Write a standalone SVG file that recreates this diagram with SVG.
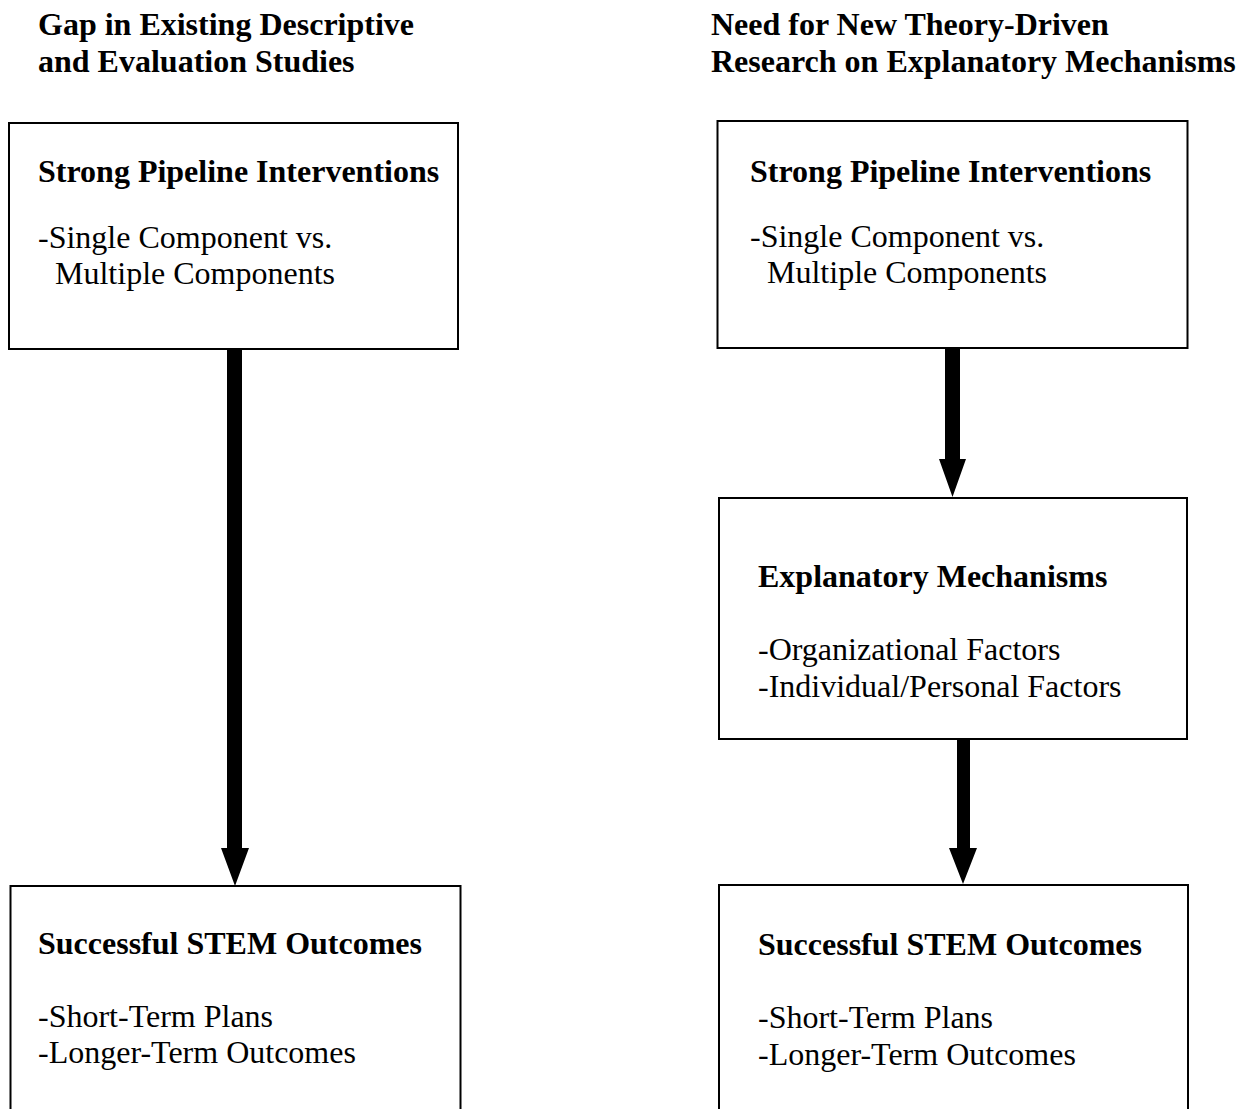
<svg xmlns="http://www.w3.org/2000/svg" width="1239" height="1109" viewBox="0 0 1239 1109">
<style>
.box{fill:#fff;stroke:#000;stroke-width:2}
text{font-family:"Liberation Serif","Times New Roman",serif;font-size:32px;fill:#000}
.b{font-weight:bold}
.arrow{fill:#000;stroke:none}
</style>
<rect width="1239" height="1109" fill="#fff"/>
<g id="header-left">
<text class="b" x="38" y="35">Gap in Existing Descriptive</text>
<text class="b" x="38" y="72">and Evaluation Studies</text>
</g>
<g id="header-right">
<text class="b" x="711" y="35">Need for New Theory-Driven</text>
<text class="b" x="711" y="72">Research on Explanatory Mechanisms</text>
</g>
<g id="left-interventions">
<rect class="box" x="9" y="123" width="449" height="226"/>
<text class="b" x="38" y="182">Strong Pipeline Interventions</text>
<text x="38" y="248">-Single Component vs.</text>
<text x="55" y="284">Multiple Components</text>
</g>
<g id="left-outcomes">
<rect class="box" x="10.5" y="886" width="450" height="260"/>
<text class="b" x="38" y="954">Successful STEM Outcomes</text>
<text x="38" y="1027">-Short-Term Plans</text>
<text x="38" y="1063">-Longer-Term Outcomes</text>
</g>
<g id="right-interventions">
<rect class="box" x="717.5" y="121" width="470" height="227"/>
<text class="b" x="750" y="182">Strong Pipeline Interventions</text>
<text x="750" y="247">-Single Component vs.</text>
<text x="767" y="283">Multiple Components</text>
</g>
<g id="right-mechanisms">
<rect class="box" x="719" y="498" width="468" height="241"/>
<text class="b" x="758" y="587">Explanatory Mechanisms</text>
<text x="758" y="660">-Organizational Factors</text>
<text x="758" y="697">-Individual/Personal Factors</text>
</g>
<g id="right-outcomes">
<rect class="box" x="719" y="885" width="469" height="260"/>
<text class="b" x="758" y="955">Successful STEM Outcomes</text>
<text x="758" y="1028">-Short-Term Plans</text>
<text x="758" y="1065">-Longer-Term Outcomes</text>
</g>
<g id="connectors">
<path class="arrow" d="M227,350 H242 V848 H249 L235,886 L221,848 H227 Z"/>
<path class="arrow" d="M945,349 H960 V459 H966 L952.5,497 L939,459 H945 Z"/>
<path class="arrow" d="M957,740 H970 V848 H977 L963,884 L949,848 H957 Z"/>
</g>
</svg>
